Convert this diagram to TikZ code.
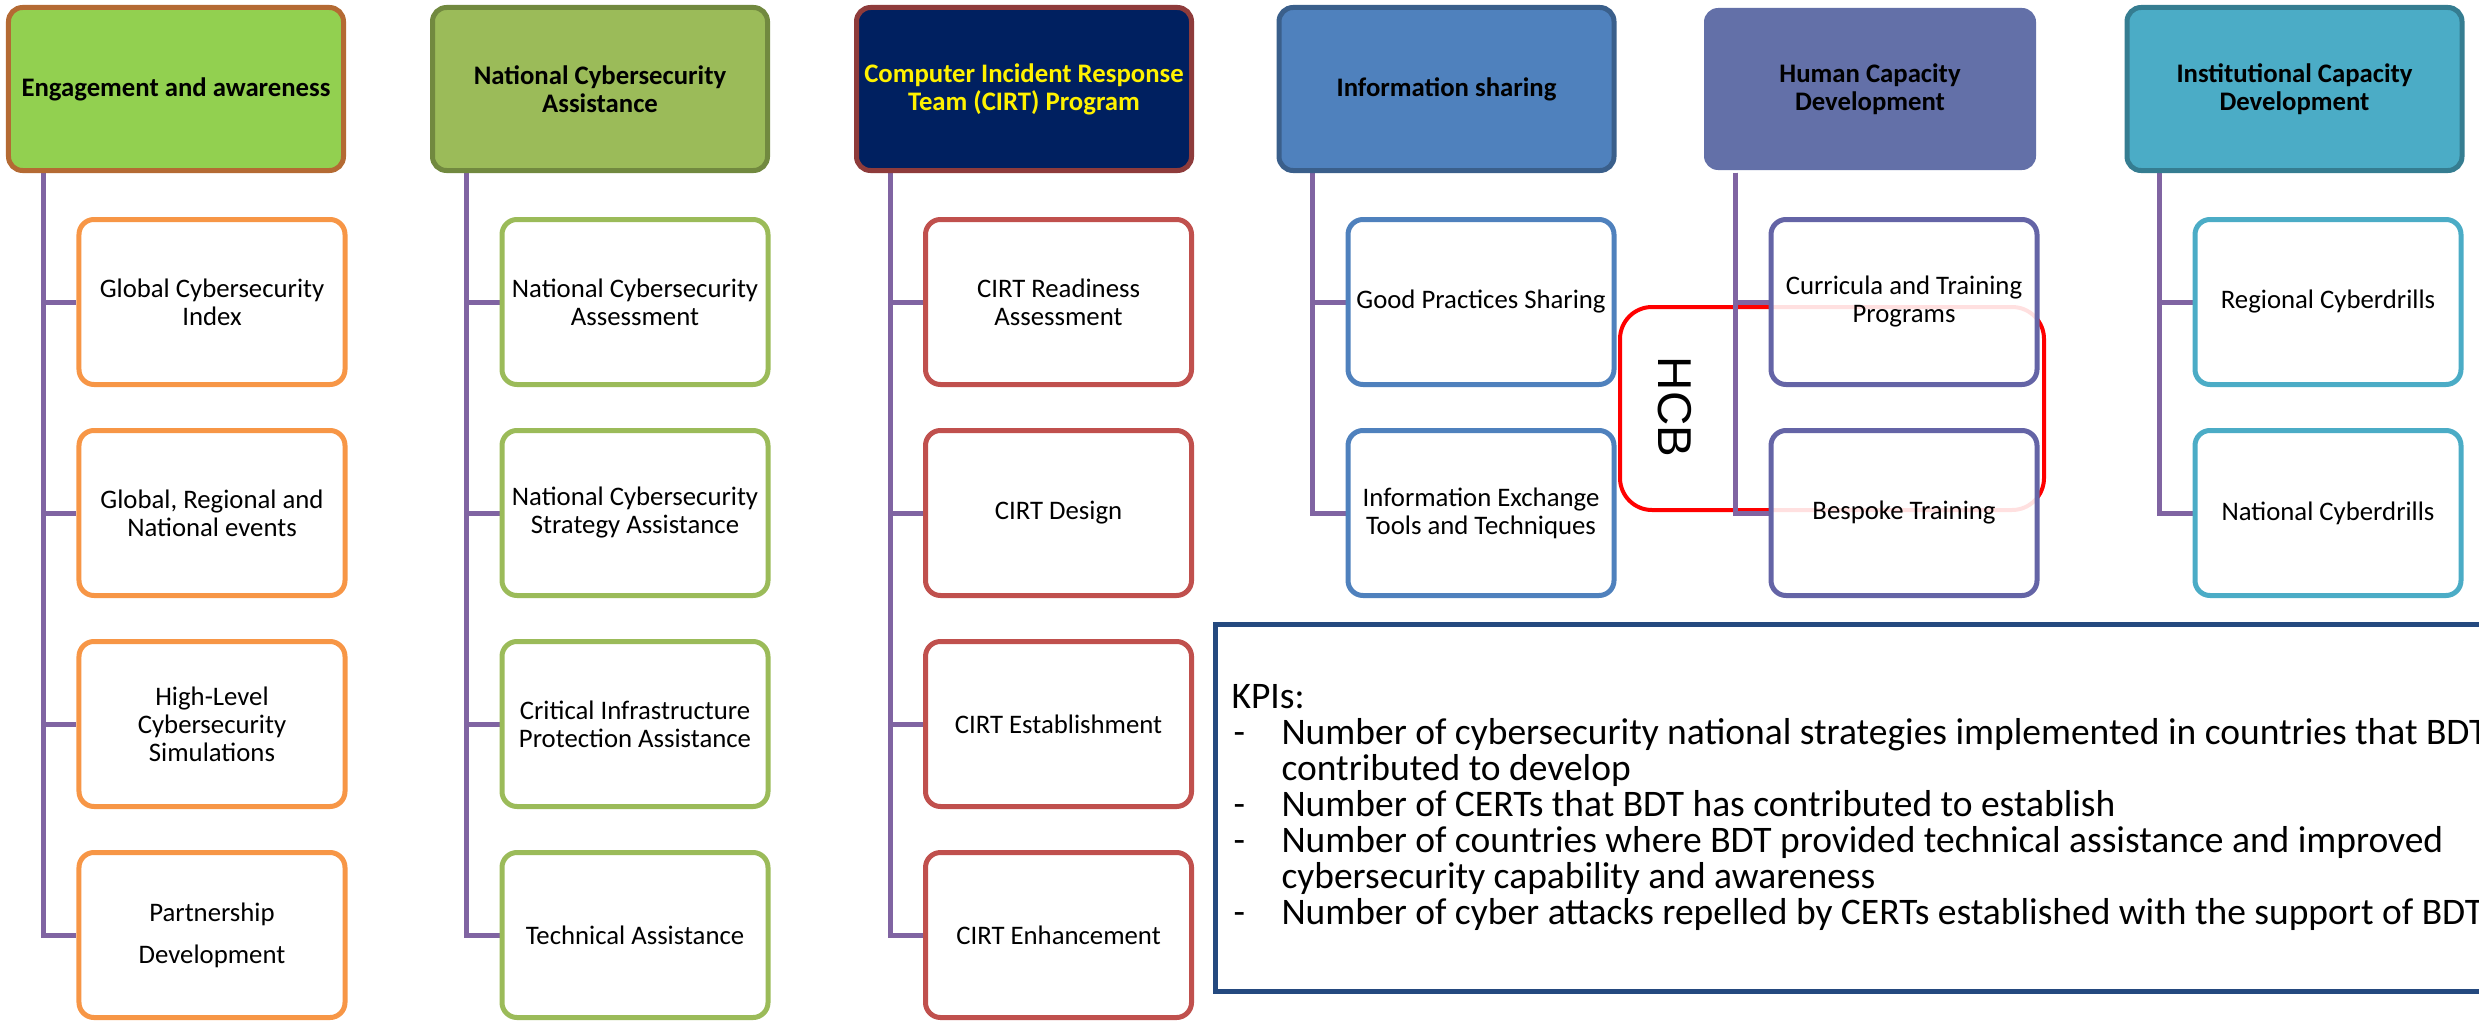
\documentclass[tikz,border=0pt]{standalone}
\usepackage{fontspec}
\setmainfont{Carlito}
\newfontfamily\hcbfont{Liberation Sans}
\usetikzlibrary{calc,backgrounds}

% header fills and borders
\definecolor{hA}{HTML}{92D050}\definecolor{hAd}{HTML}{B46A33}
\definecolor{hB}{HTML}{9BBB59}\definecolor{hBd}{HTML}{71893F}
\definecolor{hC}{HTML}{002060}\definecolor{hCd}{HTML}{8E3B3B}
\definecolor{hD}{HTML}{4F81BD}\definecolor{hDd}{HTML}{3A5F8B}
\definecolor{hE}{HTML}{6370A8}
\definecolor{hF}{HTML}{4BACC6}\definecolor{hFd}{HTML}{357D91}
% child box borders
\definecolor{cA}{HTML}{F79646}
\definecolor{cB}{HTML}{9BBB59}
\definecolor{cC}{HTML}{C0504D}
\definecolor{cD}{HTML}{4F81BD}
\definecolor{cE}{HTML}{6464A6}
\definecolor{cF}{HTML}{4BACC6}
\definecolor{linkc}{HTML}{8064A2}
\definecolor{kpic}{HTML}{24497F}
\definecolor{hcbred}{HTML}{FF0000}

\begin{document}
\begin{tikzpicture}[x=0.4pt,y=-0.4pt,
  hdr/.style={rounded corners=5.6pt, line width=2pt, minimum width=134pt,
    minimum height=65.2pt, align=center, inner sep=2pt,
    font=\fontsize{10.7}{11.2}\selectfont\bfseries},
  sub/.style={draw=#1, rounded corners=6pt, line width=2pt, fill=white,
    fill opacity=0.88, text opacity=1, minimum width=106.4pt,
    minimum height=66pt, align=center, inner sep=1pt,
    font=\fontsize{10.7}{11.2}\selectfont},
  link/.style={draw=linkc, line width=2pt},
  kpitext/.style={anchor=base west, inner sep=0pt,
    font=\fontsize{15}{14.4}\selectfont},
  hcbframe/.style={draw=hcbred, line width=1.6pt, rounded corners=12.8pt,
    minimum width=169.6pt, minimum height=81.2pt},
  kpiframe/.style={draw=kpic, line width=2pt, outer sep=0pt, anchor=north west,
    minimum width=554pt, minimum height=146.8pt}
]
\useasboundingbox (0,0) rectangle (2479,1020);

% column headers
\node[hdr, fill=hA, draw=hAd] (h1) at (176,89) {Engagement and awareness};
\node[hdr, fill=hB, draw=hBd] (h2) at (600,89) {National Cybersecurity\\Assistance};
\node[hdr, fill=hC, draw=hCd, text=yellow] (h3) at (1024,89) {Computer Incident Response\\Team (CIRT) Program};
\node[hdr, fill=hD, draw=hDd] (h4) at (1446.5,89) {Information sharing};
\node[hdr, fill=hE, minimum width=132.8pt, minimum height=64.8pt] (h5) at (1870,89) {Human Capacity\\Development};
\node[hdr, fill=hF, draw=hFd] (h6) at (2294.5,89) {Institutional Capacity\\Development};

% engagement and awareness
\node[sub=cA] (a1) at (212,302) {Global Cybersecurity\\Index};
\node[sub=cA] (a2) at (212,513) {Global, Regional and\\National events};
\node[sub=cA] (a3) at (212,724) {High-Level\\Cybersecurity\\Simulations};
\node[sub=cA] (a4) at (212,935) {Partnership\\[5.6pt]Development};

% national cybersecurity assistance
\node[sub=cB] (b1) at (635,302) {National Cybersecurity\\Assessment};
\node[sub=cB] (b2) at (635,513) {National Cybersecurity\\Strategy Assistance};
\node[sub=cB] (b3) at (635,724) {Critical Infrastructure\\Protection Assistance};
\node[sub=cB] (b4) at (635,935) {Technical Assistance};

% CIRT program
\node[sub=cC] (c1) at (1058.5,302) {CIRT Readiness\\Assessment};
\node[sub=cC] (c2) at (1058.5,513) {CIRT Design};
\node[sub=cC] (c3) at (1058.5,724) {CIRT Establishment};
\node[sub=cC] (c4) at (1058.5,935) {CIRT Enhancement};

% information sharing
\node[sub=cD] (d1) at (1481,302) {Good Practices Sharing};
\node[sub=cD] (d2) at (1481,513) {Information Exchange\\Tools and Techniques};

% human capacity development
\node[sub=cE] (e1) at (1904,302) {Curricula and Training\\Programs};
\node[sub=cE] (e2) at (1904,513) {Bespoke Training};

% institutional capacity development
\node[sub=cF] (f1) at (2328,302) {Regional Cyberdrills};
\node[sub=cF] (f2) at (2328,513) {National Cyberdrills};

% HCB grouping and connectors underneath the boxes
\begin{pgfonlayer}{background}
  \node[hcbframe] (hcb) at (1832,408.5) {};
  \foreach \h/\c in {h1/a1,h1/a2,h1/a3,h1/a4,h2/b1,h2/b2,h2/b3,h2/b4,
                     h3/c1,h3/c2,h3/c3,h3/c4,h4/d1,h4/d2,h5/e1,h5/e2,h6/f1,h6/f2}
    \draw[link] ($(\h.south -| \c.west)+(-33,0)$) |- (\c.west);
\end{pgfonlayer}
\node[rotate=-90, inner sep=0pt, font=\hcbfont\fontsize{19}{19}\selectfont] (hcblabel) at (1675,407) {HCB};

% KPI panel
\node[kpiframe] (kpi) at (1215.5,624.5) {};
\node[kpitext] (k0) at (1231,708) {KPIs:};
\node[kpitext] (m1) at (1233,744) {-};
\node[kpitext] (k1) at (1281,744) {Number of cybersecurity national strategies implemented in countries that BDT};
\node[kpitext] (k2) at (1281,780) {contributed to develop};
\node[kpitext] (m3) at (1233,816) {-};
\node[kpitext] (k3) at (1281,816) {Number of CERTs that BDT has contributed to establish};
\node[kpitext] (m4) at (1233,852) {-};
\node[kpitext] (k4) at (1281,852) {Number of countries where BDT provided technical assistance and improved};
\node[kpitext] (k5) at (1281,888) {cybersecurity capability and awareness};
\node[kpitext] (m6) at (1233,924) {-};
\node[kpitext] (k6) at (1281,924) {Number of cyber attacks repelled by CERTs established with the support of BDT};
\end{tikzpicture}
\end{document}
